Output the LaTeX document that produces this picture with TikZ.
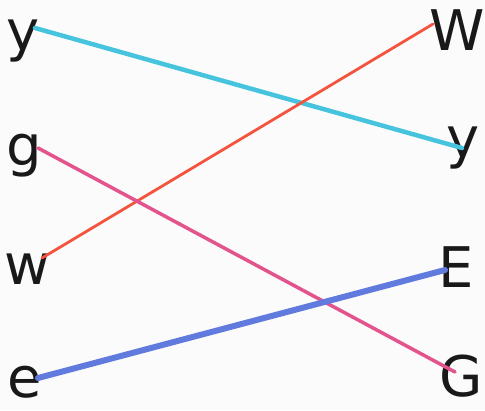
\documentclass[tikz,border=0pt]{standalone}
\usepackage{fontspec}
\setmainfont{DejaVu Sans}
\definecolor{cyanline}{RGB}{70,196,222}
\definecolor{redline}{RGB}{244,84,62}
\definecolor{pinkline}{RGB}{228,84,140}
\definecolor{blueline}{RGB}{96,122,222}
\begin{document}
\begin{tikzpicture}[x=1pt,y=-1pt,
  letter/.style={inner sep=0pt,font=\fontsize{56}{58}\selectfont,text=black!90},
  link/.style={line cap=round}]
\fill[white!97!gray] (0,0) rectangle (485,410);
\useasboundingbox (0,0) rectangle (485,410);
% left letters
\node[letter,anchor=base west] (ly) at (6,50) {y};
\node[letter,anchor=base west] (lg) at (6,165) {g};
\node[letter,anchor=base west] (lw) at (4,284) {w};
\node[letter,anchor=base west] (le) at (7,397) {e};
% right letters
\node[letter,anchor=base west] (rW) at (429,50) {W};
\node[letter,anchor=base west] (ry) at (446,157) {y};
\node[letter,anchor=base west] (rE) at (438,287) {E};
\node[letter,anchor=base west] (rG) at (439,396) {G};
% connector end points
\coordinate (cy1) at (35,28);
\coordinate (cy2) at (462,148);
\coordinate (cw1) at (42,258);
\coordinate (cw2) at (433,24);
\coordinate (cg1) at (38,148);
\coordinate (cg2) at (455,372);
\coordinate (ce1) at (38,378);
\coordinate (ce2) at (445,270);
\draw[link,cyanline,line width=4.5pt] (cy1) -- (cy2);
\draw[link,redline,line width=2.8pt] (cw1) -- (cw2);
\draw[link,pinkline,line width=3.5pt] (cg1) -- (cg2);
\draw[link,blueline,line width=6pt] (ce1) -- (ce2);
\end{tikzpicture}
\end{document}
